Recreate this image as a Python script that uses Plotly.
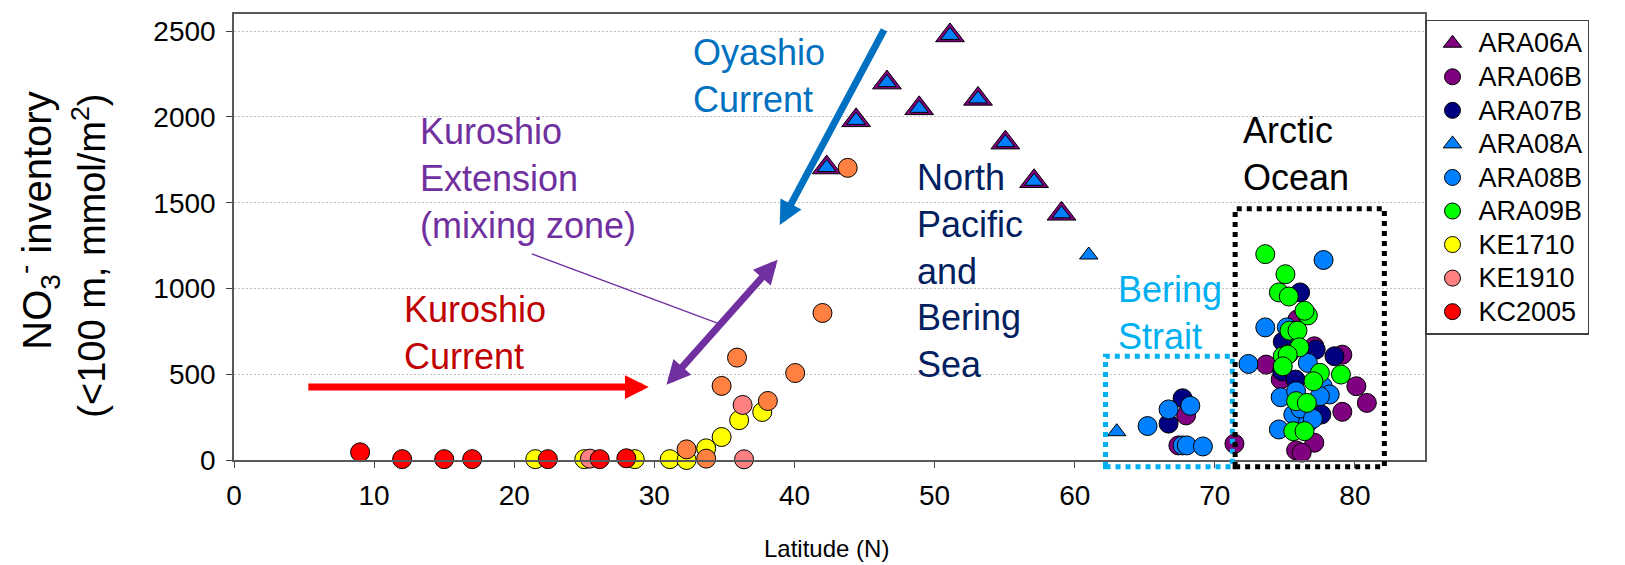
import plotly.graph_objects as go

# ---------------- data ----------------
kc2005_lat = [9.0, 12.0, 15.0, 17.0, 22.4, 26.1, 28.0]
kc2005_no3 = [45, 5, 5, 5, 5, 5, 10]

ke1710_lat = [21.5, 25.0, 28.6, 31.1, 32.3, 33.7, 34.8, 36.05, 37.7]
ke1710_no3 = [5, 5, 5, 5, 0, 68, 134, 232, 280]

ke1910_lat = [25.4, 36.4, 36.3]
ke1910_no3 = [8, 4, 321]

other_lat = [32.3, 33.7, 34.8, 35.9, 38.1, 40.05, 42.0, 43.8]
other_no3 = [62, 8, 432, 597, 344, 507, 857, 1703]

ara06a_lat = [42.3, 44.4, 46.6, 48.9, 51.1, 53.1, 55.05, 57.1, 59.06]
ara06a_no3 = [1705, 1980, 2200, 2050, 2475, 2105, 1850, 1625, 1435]

ara08a_lat = [42.3, 44.4, 46.6, 48.9, 51.1, 53.1, 55.05, 57.1, 59.06, 61.0, 63.0]
ara08a_no3 = [1705, 1980, 2200, 2050, 2475, 2105, 1850, 1625, 1435, 1195, 165]

ara06b_lat = [67.4, 67.95, 71.4, 73.66, 77.1, 79.1, 74.7, 80.1, 80.85, 79.1, 77.1, 75.8, 76.2, 75.9]
ara06b_no3 = [85, 260, 95, 556, 663, 614, 469, 430, 333, 281, 101, 56, 43, 820]

ara07b_lat = [66.7, 67.7, 76.09, 77.2, 78.54, 74.8, 75.76, 77.6, 74.85]
ara07b_no3 = [212, 360, 977, 643, 605, 517, 469, 265, 690]

ara08b_lat = [65.2, 66.7, 68.25, 67.7, 68.0, 69.15,
              77.76, 73.6, 75.14, 72.4, 76.64, 74.7, 75.8, 77.7, 78.2, 77.5, 75.6, 76.64, 74.57, 76.1, 75.3, 77.0]
ara08b_no3 = [198, 295, 316, 85, 85, 79,
              1166, 773, 773, 560, 566, 366, 401, 430, 382, 372, 265, 217, 178, 300, 620, 240]

ara09b_lat = [73.6, 75.04, 74.57, 75.28, 76.64, 76.4, 75.33, 75.9, 76.04, 74.85, 75.2, 74.85,
              77.5, 79.0, 77.04, 75.8, 76.57, 75.6, 76.4]
ara09b_no3 = [1200, 1083, 977, 953, 843, 870, 754, 754, 657, 605, 614, 546,
              508, 498, 459, 343, 333, 168, 168]

x_ticks = [0, 10, 20, 30, 40, 50, 60, 70, 80]
y_ticks = [0, 500, 1000, 1500, 2000, 2500]

XMAX, YMAX = 85, 2600
FONT = "Arial, Liberation Sans, sans-serif"

# plot-area geometry (pixels)
L, T, PW, PH = 226, 4, 1191, 448
W, H = 1625, 565

fig = go.Figure()

def add(name, xs, ys, color, symbol="circle", size=19, legend=True):
    fig.add_trace(go.Scatter(
        x=xs, y=ys, mode="markers", showlegend=legend,
        name='<span style="font-size:27px">%s</span>' % name if legend else name,
        cliponaxis=False,
        marker=dict(symbol=symbol, size=size, color=color,
                    line=dict(color="#000000", width=1)),
    ))

add("ARA06A", ara06a_lat, ara06a_no3, "#800080", "triangle-up", 25)
add("ARA06B", ara06b_lat, ara06b_no3, "#800080")
add("ARA07B", ara07b_lat, ara07b_no3, "#000080")
add("ARA08A", ara08a_lat, ara08a_no3, "#0080FF", "triangle-up", 16)
add("ARA08B", ara08b_lat, ara08b_no3, "#0080FF")
add("ARA09B", ara09b_lat, ara09b_no3, "#00FF00")
add("KE1710", ke1710_lat, ke1710_no3, "#FFFF00")
add("KE1910", ke1910_lat, ke1910_no3, "#FF8080")
add("KC2005", kc2005_lat, kc2005_no3, "#FF0000")
add("other", other_lat, other_no3, "#FF8040", legend=False)

def px(v):
    return v / XMAX

def py(v):
    return v / YMAX

def ppx(pix):   # absolute pixel x -> paper
    return (pix - L) / PW

def ppy(pix):   # absolute pixel y (from top) -> paper
    return (T + PH - pix) / PH

shapes = [
    dict(type="rect", xref="paper", yref="paper",
         x0=px(62.2), x1=px(71.25), y0=py(-40), y1=py(605),
         line=dict(color="#00B0F0", width=5, dash="dot")),
    dict(type="rect", xref="paper", yref="paper",
         x0=px(71.45), x1=px(82.1), y0=py(-40), y1=py(1465),
         line=dict(color="#000000", width=5, dash="dot")),
    dict(type="line", xref="x", yref="y", x0=21.25, y0=1202, x1=34.5, y1=798,
         line=dict(color="#7030A0", width=1.3)),
]

def arrow(x, y, ax, ay, color, both=False):
    d = dict(x=x, y=y, ax=ax, ay=ay, xref="x", yref="y", axref="x", ayref="y",
             text="", showarrow=True, arrowhead=2, arrowsize=0.68, arrowwidth=7,
             arrowcolor=color, standoff=0)
    if both:
        d.update(arrowside="end+start", startarrowhead=2, startarrowsize=0.68, startstandoff=0)
    return d

def label(x, y, text, color):
    return dict(x=x, y=y, xref="x", yref="y", text=text, showarrow=False,
                xanchor="left", yanchor="middle", align="left",
                font=dict(family=FONT, size=36, color=color))

annotations = [
    arrow(29.6, 425, 5.2, 425, "#FF0000"),
    arrow(38.8, 1167, 30.77, 430, "#7030A0", both=True),
    arrow(38.95, 1370, 46.45, 2516, "#0070C0"),
    label(32.6, 2238, "Oyashio<br>Current", "#0070C0"),
    label(13.1, 1642, "Kuroshio<br>Extension<br>(mixing zone)", "#7030A0"),
    label(12.0, 741, "Kuroshio<br>Current", "#C00000"),
    label(48.6, 1102, "North<br>Pacific<br>and<br>Bering<br>Sea", "#002060"),
    label(62.95, 855, "Bering<br>Strait", "#00B0F0"),
    label(71.9, 1785, "Arctic<br>Ocean", "#000000"),
    dict(x=ppx(29), y=ppy(80), xref="paper", yref="paper",
         text="NO<sub>3</sub><sup>-</sup> inventory", showarrow=False, textangle=-90,
         xanchor="center", yanchor="top", font=dict(family=FONT, size=40, color="#000")),
    dict(x=ppx(81), y=ppy(82), xref="paper", yref="paper",
         text="(&lt;100 m, mmol/m<sup>2</sup>)", showarrow=False, textangle=-90,
         xanchor="center", yanchor="top", font=dict(family=FONT, size=38, color="#000")),
    dict(x=ppx(818), y=ppy(541), xref="paper", yref="paper",
         text="Latitude (N)", showarrow=False, xanchor="center", yanchor="middle",
         font=dict(family=FONT, size=24, color="#000")),
]

fig.update_layout(
    width=W, height=H,
    margin=dict(l=L, r=W - L - PW, t=T, b=H - T - PH),
    paper_bgcolor="white", plot_bgcolor="white",
    font=dict(family=FONT, color="#000"),
    shapes=shapes, annotations=annotations,
    legend=dict(x=ppx(1417), y=ppy(10), xanchor="left", yanchor="top",
                bgcolor="white", bordercolor="#404040", borderwidth=1.5,
                font=dict(family=FONT, size=23.5, color="#000"),
                itemwidth=42),
)
fig.update_xaxes(range=[0, XMAX], tickvals=x_ticks, ticks="outside", ticklen=6,
                 tickcolor="#404040", showgrid=False, zeroline=False,
                 showline=True, linecolor="#595959", linewidth=1.5, mirror=True,
                 tickfont=dict(family=FONT, size=28, color="#000"), ticklabelstandoff=4)
fig.update_yaxes(range=[0, YMAX], tickvals=y_ticks, ticks="outside", ticklen=6,
                 tickcolor="#404040", showgrid=True, gridcolor="#BFBFBF", griddash="2px,2px",
                 gridwidth=1, zeroline=False,
                 showline=True, linecolor="#595959", linewidth=1.5, mirror=True,
                 tickfont=dict(family=FONT, size=28, color="#000"), ticklabelstandoff=5)

fig.write_html("out.html")
